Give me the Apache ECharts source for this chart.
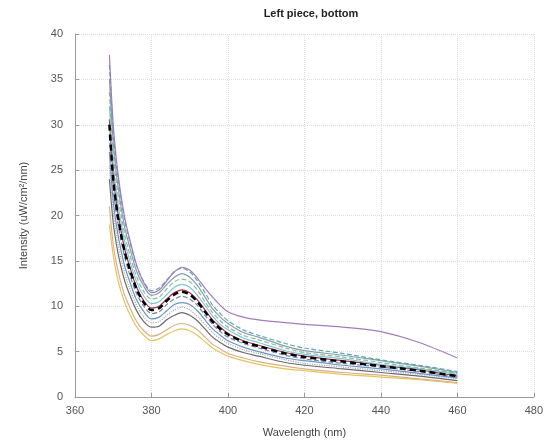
<!DOCTYPE html>
<html>
<head>
<meta charset="utf-8">
<script src="https://cdn.jsdelivr.net/npm/echarts@6/dist/echarts.min.js"></script>
<style>html,body{margin:0;padding:0;background:#fff;}#c{width:546px;height:443px;}</style>
</head>
<body>
<div id="c"></div>
<script>
var wavelength = [369, 370, 371, 372, 373, 374, 376, 378, 380, 382, 384, 386, 388, 390, 392, 394, 396, 398, 400, 404, 408, 415, 420, 430, 440, 450, 460];
var xTicks = [360, 380, 400, 420, 440, 460, 480];
var yTicks = [0, 5, 10, 15, 20, 25, 30, 35, 40];

var sPurple = [37.7, 30.0, 25.5, 22.3, 19.8, 17.9, 14.7, 12.6, 11.5, 11.8, 12.8, 13.8, 14.3, 14.0, 13.1, 12.0, 11.0, 10.1, 9.4, 8.8, 8.5, 8.2, 8.0, 7.7, 7.2, 6.0, 4.3];
var sTeal   = [36.6, 29.3, 25.0, 22.0, 19.5, 17.7, 14.6, 12.7, 11.7, 12.0, 12.9, 13.8, 14.2, 13.8, 12.8, 11.5, 10.1, 9.2, 8.4, 7.4, 6.8, 5.9, 5.4, 4.8, 4.1, 3.5, 2.8];
var sSlate  = [35.1, 28.1, 24.0, 21.1, 18.7, 17.0, 14.0, 12.2, 11.2, 11.5, 12.4, 13.2, 13.6, 13.2, 12.3, 11.0, 9.7, 8.8, 8.1, 7.1, 6.6, 5.6, 5.1, 4.6, 4.0, 3.4, 2.7];
var sGreen  = [33.6, 26.9, 23.0, 20.2, 17.9, 16.2, 13.4, 11.6, 10.8, 11.0, 11.9, 12.7, 13.0, 12.7, 11.8, 10.5, 9.3, 8.4, 7.7, 6.8, 6.3, 5.4, 4.9, 4.4, 3.8, 3.2, 2.6];
var sCyan   = [32.1, 25.7, 21.9, 19.3, 17.1, 15.5, 12.8, 11.1, 10.3, 10.5, 11.3, 12.1, 12.4, 12.1, 11.2, 10.1, 8.9, 8.0, 7.4, 6.5, 6.0, 5.1, 4.7, 4.2, 3.6, 3.1, 2.5];
var sRed    = [30.6, 24.5, 20.9, 18.4, 16.3, 14.8, 12.2, 10.6, 9.8, 10.0, 10.8, 11.5, 11.8, 11.5, 10.7, 9.6, 8.5, 7.7, 7.0, 6.2, 5.7, 4.9, 4.5, 4.0, 3.5, 3.0, 2.3];
var sMean   = [30.0, 24.0, 20.5, 18.0, 16.0, 14.5, 12.0, 10.4, 9.6, 9.8, 10.6, 11.3, 11.6, 11.3, 10.5, 9.4, 8.3, 7.5, 6.9, 6.1, 5.6, 4.8, 4.4, 3.9, 3.4, 2.9, 2.3];
var sSteel  = [28.8, 23.0, 19.7, 17.3, 15.4, 13.9, 11.5, 10.0, 9.2, 9.4, 10.2, 10.8, 11.1, 10.8, 10.1, 9.0, 8.0, 7.2, 6.6, 5.9, 5.4, 4.6, 4.2, 3.7, 3.3, 2.8, 2.2];
var sBlue   = [27.0, 21.6, 18.5, 16.2, 14.4, 13.1, 10.8, 9.4, 8.6, 8.8, 9.5, 10.2, 10.4, 10.2, 9.5, 8.5, 7.5, 6.8, 6.2, 5.5, 5.0, 4.3, 4.0, 3.5, 3.1, 2.6, 2.1];
var sGray   = [25.5, 20.4, 17.4, 15.3, 13.6, 12.3, 10.2, 8.8, 8.2, 8.3, 9.0, 9.6, 9.9, 9.6, 8.9, 8.0, 7.1, 6.4, 5.9, 5.2, 4.8, 4.1, 3.7, 3.3, 2.9, 2.5, 2.0];
var sDark   = [24.0, 19.2, 16.4, 14.4, 12.8, 11.6, 9.6, 8.3, 7.7, 7.8, 8.5, 9.0, 9.3, 9.0, 8.4, 7.5, 6.6, 6.0, 5.5, 4.9, 4.5, 3.8, 3.5, 3.1, 2.7, 2.3, 1.8];
var sTan    = [21.0, 16.8, 14.4, 12.6, 11.2, 10.2, 8.4, 7.3, 6.7, 6.9, 7.4, 7.9, 8.1, 7.9, 7.4, 6.6, 5.8, 5.3, 4.8, 4.3, 3.9, 3.4, 3.1, 2.7, 2.4, 2.0, 1.6];
var sYellow = [19.0, 15.6, 13.3, 11.7, 10.4, 9.4, 7.8, 6.8, 6.2, 6.4, 6.9, 7.3, 7.5, 7.3, 6.8, 6.1, 5.4, 4.9, 4.5, 4.0, 3.6, 3.1, 2.9, 2.5, 2.2, 1.9, 1.5];

function pairs(arr) { return wavelength.map(function (w, i) { return [w, arr[i]]; }); }

var lines = [
  {d: sYellow, c: '#e6c35a', t: 'solid', w: 1.2},
  {d: sTan,    c: '#d8b088', t: 'solid', w: 1.2},
  {d: sDark,   c: '#6a6a6a', t: 'solid', w: 1.2},
  {d: sGray,   c: '#a8a8b0', t: 'dotted', w: 1.2},
  {d: sBlue,   c: '#6b95c4', t: 'solid', w: 1.2},
  {d: sSteel,  c: '#7a88a8', t: 'dashed', w: 1.2},
  {d: sRed,    c: '#a8324a', t: 'solid', w: 1.2},
  {d: sCyan,   c: '#7ec6e0', t: 'solid', w: 1.2},
  {d: sGreen,  c: '#8cbf8a', t: 'dashed', w: 1.2},
  {d: sSlate,  c: '#8a9bb5', t: 'solid', w: 1.2},
  {d: sTeal,   c: '#5aa9a8', t: 'dashed', w: 1.2},
  {d: sPurple, c: '#a47cbc', t: 'solid', w: 1.2},
  {d: sMean,   c: '#000000', t: [6, 4], w: 2.5}
];

var series = lines.map(function (l) {
  return {
    type: 'line', data: pairs(l.d), showSymbol: false, smooth: 0.3,
    lineStyle: {color: l.c, type: l.t, width: l.w}, silent: true, z: l.w > 2 ? 5 : 2
  };
});

var chart = echarts.init(document.getElementById('c'), null, {renderer: 'canvas'});
chart.setOption({
  animation: false,
  backgroundColor: '#ffffff',
  title: {
    text: 'Left piece, bottom', left: 306, top: 3, textAlign: 'center',
    textStyle: {fontFamily: 'Liberation Sans, Arial', fontSize: 11, fontWeight: 'bold', color: '#222'}
  },
  grid: {left: 75, right: 8, top: 34, bottom: 45, containLabel: false},
  xAxis: {
    type: 'value', min: xTicks[0], max: xTicks[xTicks.length - 1], interval: 20,
    name: 'Wavelength (nm)', nameLocation: 'middle', nameGap: 30,
    nameTextStyle: {fontFamily: 'Liberation Sans, Arial', fontSize: 11, color: '#444'},
    axisLine: {show: true, lineStyle: {color: '#999'}},
    axisTick: {inside: true, length: 4, lineStyle: {color: '#999'}},
    axisLabel: {fontFamily: 'Liberation Sans, Arial', fontSize: 11, color: '#555', margin: 8},
    splitLine: {show: true, lineStyle: {color: '#dcdcdc', type: 'dotted'}}
  },
  yAxis: {
    type: 'value', min: yTicks[0], max: yTicks[yTicks.length - 1], interval: 5,
    name: 'Intensity (uW/cm\u00b2/nm)', nameLocation: 'middle', nameGap: 46, nameRotate: 90,
    nameTextStyle: {fontFamily: 'Liberation Sans, Arial', fontSize: 11, color: '#444'},
    axisLine: {show: true, lineStyle: {color: '#999'}},
    axisTick: {show: true, inside: true, length: 4, lineStyle: {color: '#999'}},
    axisLabel: {fontFamily: 'Liberation Sans, Arial', fontSize: 11, color: '#555', margin: 12},
    splitLine: {show: true, lineStyle: {color: '#dcdcdc', type: 'dotted'}}
  },
  series: series
});
</script>
</body>
</html>
